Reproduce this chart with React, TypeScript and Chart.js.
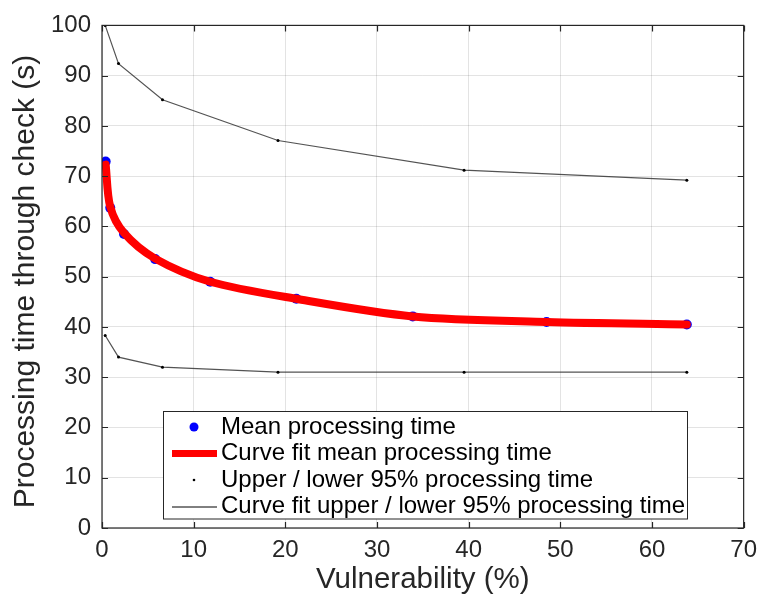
import React, { useEffect, useRef } from "react";
import { Chart, registerables } from "chart.js";

Chart.register(...registerables);

const meanX = [0.4, 0.9, 2.4, 5.8, 11.8, 21.2, 33.9, 48.5, 63.8];
const meanY = [72.9, 63.7, 58.5, 53.5, 49.0, 45.6, 42.1, 41.0, 40.5];
const fitMeanY = [72.3, 63.9, 58.7, 53.6, 49.0, 45.6, 42.1, 41.0, 40.5];
const boundX = [0.35, 1.8, 6.6, 19.2, 39.5, 63.8];
const upperY = [100.0, 92.4, 85.2, 77.1, 71.2, 69.2];
const lowerY = [38.3, 34.0, 32.0, 31.0, 31.0, 31.0];
const xTicks = [0, 10, 20, 30, 40, 50, 60, 70];
const yTicks = [0, 10, 20, 30, 40, 50, 60, 70, 80, 90, 100];
const legendLabels = [
  "Mean processing time",
  "Curve fit mean processing time",
  "Upper / lower 95% processing time",
  "Curve fit upper / lower 95% processing time",
];
const xTitle = "Vulnerability (%)";
const yTitle = "Processing time through check (s)";

const FONT = "'Liberation Sans', Arial, Helvetica, sans-serif";
const AXIS_COLOR = "#262626";

const pts = (xs: number[], ys: number[]) => xs.map((x, i) => ({ x, y: ys[i] }));

const boxPlugin = {
  id: "boxAndTicks",
  afterDatasetsDraw(chart: any) {
    const { ctx, chartArea: a, scales } = chart;
    const xs = scales.x;
    const ys = scales.y;
    ctx.save();
    ctx.strokeStyle = AXIS_COLOR;
    ctx.lineWidth = 1.2;
    ctx.strokeRect(a.left, a.top, a.right - a.left, a.bottom - a.top);
    const tl = 6;
    ctx.beginPath();
    xTicks.forEach((t) => {
      const px = Math.round(xs.getPixelForValue(t)) + 0.5;
      ctx.moveTo(px, a.bottom);
      ctx.lineTo(px, a.bottom - tl);
      ctx.moveTo(px, a.top);
      ctx.lineTo(px, a.top + tl);
    });
    yTicks.forEach((t) => {
      const py = Math.round(ys.getPixelForValue(t)) + 0.5;
      ctx.moveTo(a.left, py);
      ctx.lineTo(a.left + tl, py);
      ctx.moveTo(a.right, py);
      ctx.lineTo(a.right - tl, py);
    });
    ctx.stroke();
    ctx.restore();
  },
  afterDraw(chart: any) {
    const { ctx, chartArea: a } = chart;
    // y axis title
    ctx.save();
    ctx.fillStyle = AXIS_COLOR;
    ctx.font = `30px ${FONT}`;
    ctx.textAlign = "center";
    ctx.textBaseline = "alphabetic";
    ctx.translate(34, 281.5);
    ctx.rotate(-Math.PI / 2);
    ctx.fillText(yTitle, 0, 0);
    ctx.restore();

    // legend
    const left = 163.5;
    const top = 411.5;
    const right = 687.5;
    const bottom = a.bottom - 9;
    ctx.save();
    ctx.fillStyle = "#ffffff";
    ctx.fillRect(left, top, right - left, bottom - top);
    ctx.strokeStyle = AXIS_COLOR;
    ctx.lineWidth = 1;
    ctx.strokeRect(left, top, right - left, bottom - top);
    const rowY = [427, 453.5, 480, 506.5];
    const symL = 172;
    const symR = 217;
    const symC = 194;
    ctx.fillStyle = "#0000ff";
    ctx.beginPath();
    ctx.arc(symC, rowY[0], 4.5, 0, Math.PI * 2);
    ctx.fill();
    ctx.strokeStyle = "#ff0000";
    ctx.lineWidth = 7;
    ctx.beginPath();
    ctx.moveTo(symL, rowY[1]);
    ctx.lineTo(symR, rowY[1]);
    ctx.stroke();
    ctx.fillStyle = "#000000";
    ctx.beginPath();
    ctx.arc(symC, rowY[2], 1.3, 0, Math.PI * 2);
    ctx.fill();
    ctx.strokeStyle = "#000000";
    ctx.lineWidth = 1;
    ctx.beginPath();
    ctx.moveTo(symL, rowY[3] + 0.5);
    ctx.lineTo(symR, rowY[3] + 0.5);
    ctx.stroke();
    ctx.fillStyle = "#000000";
    ctx.font = `24px ${FONT}`;
    ctx.textBaseline = "middle";
    ctx.textAlign = "left";
    legendLabels.forEach((t, i) => ctx.fillText(t, 221, rowY[i]));
    ctx.restore();
  },
};

export default function App() {
  const ref = useRef<HTMLCanvasElement | null>(null);
  useEffect(() => {
    document.body.style.margin = "0";
    const canvas = ref.current;
    if (!canvas) return;
    const chart = new Chart(canvas, {
      type: "scatter",
      data: {
        datasets: [
          {
            label: legendLabels[1],
            data: pts(meanX, fitMeanY),
            showLine: true,
            borderColor: "#ff0000",
            borderWidth: 8,
            pointRadius: 0,
            borderCapStyle: "round",
            borderJoinStyle: "round",
            tension: 0.3,
          },
          {
            label: legendLabels[0],
            data: pts(meanX, meanY),
            showLine: false,
            pointRadius: 5,
            pointBackgroundColor: "#0000ff",
            pointBorderWidth: 0,
            borderColor: "#0000ff",
          },
          {
            label: legendLabels[2] + " upper",
            data: pts(boundX, upperY),
            showLine: false,
            pointRadius: 1.5,
            pointBackgroundColor: "#000000",
            pointBorderWidth: 0,
          },
          {
            label: legendLabels[2] + " lower",
            data: pts(boundX, lowerY),
            showLine: false,
            pointRadius: 1.5,
            pointBackgroundColor: "#000000",
            pointBorderWidth: 0,
          },
          {
            label: legendLabels[3] + " upper",
            data: pts(boundX, upperY),
            showLine: true,
            borderColor: "rgba(40,40,40,0.8)",
            borderWidth: 1.2,
            pointRadius: 0,
          },
          {
            label: legendLabels[3] + " lower",
            data: pts(boundX, lowerY),
            showLine: true,
            borderColor: "rgba(40,40,40,0.8)",
            borderWidth: 1.2,
            pointRadius: 0,
          },
        ],
      },
      options: {
        responsive: false,
        animation: false,
        layout: { padding: { top: 21, right: 17, left: 0, bottom: 0 } },
        plugins: { legend: { display: false }, tooltip: { enabled: false } },
        scales: {
          x: {
            type: "linear",
            min: 0,
            max: 70,
            afterFit: (s: any) => {
              s.height = 70;
            },
            afterBuildTicks: (s: any) => {
              s.ticks = xTicks.map((v) => ({ value: v }));
            },
            grid: { color: "rgba(0,0,0,0.11)", drawTicks: false, lineWidth: 1 },
            border: { display: false },
            ticks: {
              color: AXIS_COLOR,
              font: { family: FONT, size: 24 },
              padding: 8,
              maxRotation: 0,
            },
            title: {
              display: true,
              text: xTitle,
              color: AXIS_COLOR,
              font: { family: FONT, size: 29.5 },
              padding: { top: 0, bottom: 0 },
            },
          },
          y: {
            type: "linear",
            min: 0,
            max: 100,
            afterFit: (s: any) => {
              s.width = 102;
            },
            afterBuildTicks: (s: any) => {
              s.ticks = yTicks.map((v) => ({ value: v }));
            },
            grid: { color: "rgba(0,0,0,0.11)", drawTicks: false, lineWidth: 1 },
            border: { display: false },
            ticks: {
              color: AXIS_COLOR,
              font: { family: FONT, size: 24 },
              padding: 11,
            },
            title: { display: false },
          },
        },
      },
      plugins: [boxPlugin],
    } as any);
    return () => chart.destroy();
  }, []);
  return (
    <div style={{ width: 765, height: 598 }}>
      <canvas ref={ref} width={765} height={598} style={{ width: 765, height: 598, display: "block" }} />
    </div>
  );
}
